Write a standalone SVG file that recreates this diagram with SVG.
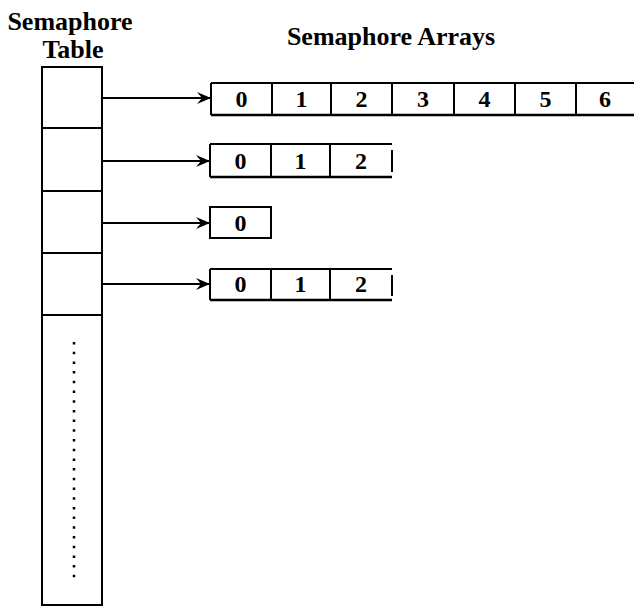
<svg xmlns="http://www.w3.org/2000/svg" width="634" height="607" viewBox="0 0 634 607">
<defs>
<style>
.t{font-family:"Liberation Serif","Times New Roman",serif;font-weight:bold;font-size:26px;fill:#000;text-anchor:middle}
.d{font-family:"Liberation Serif","Times New Roman",serif;font-weight:bold;font-size:24px;fill:#000;text-anchor:middle}
.ln{stroke:#000;stroke-width:2;fill:none}
.arr{stroke:#000;stroke-width:2;fill:none;marker-end:url(#ah)}
</style>
<marker id="ah" viewBox="0 0 14 12" refX="14" refY="6" markerWidth="14" markerHeight="12" markerUnits="userSpaceOnUse" orient="auto">
<path d="M0,0 L14,6 L0,12 L5,6 Z" fill="#000"/>
</marker>
</defs>
<g id="titles">
<text class="t" x="70" y="30">Semaphore</text>
<text class="t" x="73" y="58">Table</text>
<text class="t" x="391" y="45">Semaphore Arrays</text>
</g>
<g id="table">
<rect class="ln" x="42" y="67" width="60" height="538"/>
<line class="ln" x1="42" y1="128" x2="102" y2="128"/>
<line class="ln" x1="42" y1="191" x2="102" y2="191"/>
<line class="ln" x1="42" y1="253" x2="102" y2="253"/>
<line class="ln" x1="42" y1="315" x2="102" y2="315"/>
<line x1="74" y1="342" x2="74" y2="580" stroke="#000" stroke-width="2.5" stroke-dasharray="2.5 7.2"/>
</g>
<g id="array1">
<line class="ln" x1="211" y1="83" x2="634" y2="83"/>
<line x1="211" y1="115" x2="634" y2="115" stroke="#000" stroke-width="2.6"/>
<line class="ln" x1="211" y1="83" x2="211" y2="115"/>
<line class="ln" x1="272" y1="83" x2="272" y2="115"/>
<line class="ln" x1="331" y1="83" x2="331" y2="115"/>
<line class="ln" x1="392" y1="83" x2="392" y2="115"/>
<line class="ln" x1="454" y1="83" x2="454" y2="115"/>
<line class="ln" x1="515" y1="83" x2="515" y2="115"/>
<line class="ln" x1="576" y1="83" x2="576" y2="115"/>
<text class="d" x="241.5" y="107">0</text>
<text class="d" x="301.5" y="107">1</text>
<text class="d" x="361.5" y="107">2</text>
<text class="d" x="423" y="107">3</text>
<text class="d" x="484.5" y="107">4</text>
<text class="d" x="545.5" y="107">5</text>
<text class="d" x="605" y="107">6</text>
</g>
<g id="array2">
<line class="ln" x1="210" y1="144" x2="392" y2="144"/>
<line x1="210" y1="177" x2="392" y2="177" stroke="#000" stroke-width="2.6"/>
<line class="ln" x1="210" y1="144" x2="210" y2="177"/>
<line class="ln" x1="271" y1="144" x2="271" y2="177"/>
<line class="ln" x1="330" y1="144" x2="330" y2="177"/>
<line class="ln" x1="392" y1="150" x2="392" y2="172"/>
<text class="d" x="240.5" y="169">0</text>
<text class="d" x="300.5" y="169">1</text>
<text class="d" x="361" y="169">2</text>
</g>
<g id="array3">
<rect class="ln" x="210" y="207" width="61" height="31"/>
<text class="d" x="240.5" y="231">0</text>
</g>
<g id="array4">
<line class="ln" x1="210" y1="269" x2="392" y2="269"/>
<line x1="210" y1="300" x2="392" y2="300" stroke="#000" stroke-width="2.6"/>
<line class="ln" x1="210" y1="269" x2="210" y2="300"/>
<line class="ln" x1="271" y1="269" x2="271" y2="300"/>
<line class="ln" x1="330" y1="269" x2="330" y2="300"/>
<line class="ln" x1="392" y1="275" x2="392" y2="296"/>
<text class="d" x="240.5" y="292">0</text>
<text class="d" x="300.5" y="292">1</text>
<text class="d" x="361" y="292">2</text>
</g>
<g id="connectors">
<line class="arr" x1="102" y1="98" x2="211" y2="98"/>
<line class="arr" x1="102" y1="161" x2="210" y2="161"/>
<line class="arr" x1="102" y1="223" x2="210" y2="223"/>
<line class="arr" x1="102" y1="284" x2="210" y2="284"/>
</g>
</svg>
